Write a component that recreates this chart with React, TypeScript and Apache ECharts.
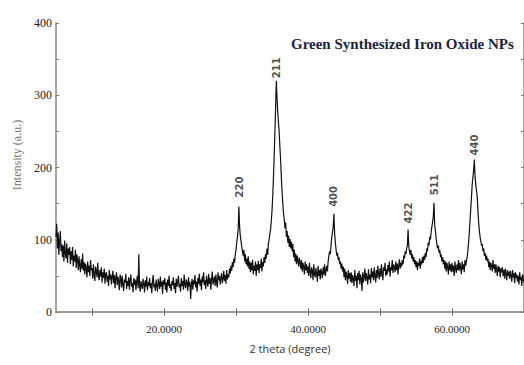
import React, { useEffect, useRef } from "react";
import * as echarts from "echarts";

// 2θ sampling grid of the scan (degrees)
const scanStart = 5.0;
const scanStep = 0.1;

// Intensity (a.u.), one value per 0.1° from 5.0° to 70.0°
const intensity: number[] = [
  // 5.0
  104, 122, 88, 110, 79, 98, 112, 84, 94, 76,
  // 6.0
  92, 70, 99, 81, 74, 95, 68, 88, 79, 90,
  // 7.0
  66, 84, 72, 90, 63, 78, 70, 86, 61, 80,
  // 8.0
  72, 58, 77, 64, 55, 73, 60, 81, 57, 69,
  // 9.0
  52, 67, 61, 48, 70, 55, 64, 50, 72, 58,
  // 10.0
  61, 46, 66, 52, 43, 63, 57, 48, 68, 50,
  // 11.0
  44, 58, 49, 62, 41, 55, 47, 60, 39, 53,
  // 12.0
  55, 42, 50, 36, 58, 45, 52, 38, 49, 57,
  // 13.0
  40, 51, 33, 47, 55, 37, 49, 42, 30, 52,
  // 14.0
  46, 34, 50, 38, 29, 45, 41, 53, 32, 43,
  // 15.0
  36, 48, 31, 44, 52, 35, 40, 27, 47, 38,
  // 16.0
  45, 30, 42, 50, 33, 80, 36, 28, 43, 37,
  // 17.0
  32, 46, 39, 27, 44, 35, 49, 30, 41, 36,
  // 18.0
  47, 33, 40, 26, 43, 51, 34, 39, 29, 45,
  // 19.0
  37, 28, 46, 40, 32, 49, 35, 42, 25, 44,
  // 20.0
  38, 47, 31, 41, 27, 45, 36, 50, 33, 39,
  // 21.0
  29, 43, 37, 48, 32, 40, 26, 46, 35, 42,
  // 22.0
  50, 34, 39, 28, 47, 36, 43, 31, 52, 38,
  // 23.0
  33, 45, 40, 29, 48, 35, 42, 18, 37, 46,
  // 24.0
  31, 44, 38, 51, 34, 42, 28, 47, 39, 53,
  // 25.0
  36, 45, 30, 49, 41, 55, 37, 44, 32, 50,
  // 26.0
  42, 35, 53, 39, 47, 31, 45, 56, 38, 43,
  // 27.0
  49, 36, 52, 41, 34, 55, 44, 50, 38, 47,
  // 28.0
  54, 40, 46, 57, 43, 51, 39, 58, 45, 52,
  // 29.0
  48, 60, 53, 64, 57, 69, 62, 74, 68, 80,
  // 30.0
  86, 96, 104, 114, 146, 118, 105, 98, 90, 84,
  // 31.0
  78, 86, 70, 80, 66, 74, 63, 77, 60, 70,
  // 32.0
  55, 68, 58, 72, 52, 64, 57, 70, 50, 66,
  // 33.0
  58, 71, 54, 66, 61, 74, 56, 69, 63, 76,
  // 34.0
  68, 80, 74, 88, 79, 95, 100, 108, 114, 126,
  // 35.0
  140, 160, 186, 215, 248, 282, 320, 296, 276, 262,
  // 36.0
  248, 228, 210, 186, 166, 150, 136, 128, 116, 124,
  // 37.0
  104, 112, 96, 106, 90, 101, 88, 97, 84, 94,
  // 38.0
  76, 86, 70, 81, 66, 78, 72, 63, 75, 68,
  // 39.0
  60, 72, 56, 68, 62, 52, 70, 58, 66, 54,
  // 40.0
  63, 50, 68, 55, 47, 62, 57, 44, 66, 52,
  // 41.0
  48, 61, 53, 42, 64, 50, 58, 45, 60, 55,
  // 42.0
  47, 62, 52, 66, 50, 58, 64, 56, 70, 78,
  // 43.0
  84, 80, 92, 104, 110, 118, 136, 108, 96, 86,
  // 44.0
  78, 82, 72, 76, 66, 70, 60, 67, 56, 63,
  // 45.0
  48, 60, 44, 56, 50, 39, 58, 46, 54, 42,
  // 46.0
  55, 40, 51, 46, 36, 58, 43, 50, 33, 54,
  // 47.0
  44, 57, 38, 52, 46, 29, 55, 41, 49, 60,
  // 48.0
  43, 54, 47, 38, 59, 45, 52, 40, 61, 48,
  // 49.0
  56, 44, 62, 50, 41, 58, 47, 64, 53, 45,
  // 50.0
  60, 49, 66, 53, 44, 62, 57, 68, 50, 59,
  // 51.0
  52, 65, 56, 70, 49, 62, 58, 72, 54, 66,
  // 52.0
  62, 55, 70, 58, 67, 52, 64, 73, 60, 68,
  // 53.0
  63, 72, 66, 78, 74, 84, 80, 88, 92, 114,
  // 54.0
  90, 84, 79, 86, 74, 80, 70, 76, 66, 72,
  // 55.0
  62, 70, 58, 68, 64, 74, 60, 71, 66, 76,
  // 56.0
  68, 78, 72, 82, 76, 88, 84, 96, 92, 104,
  // 57.0
  100, 110, 118, 124, 132, 151, 120, 112, 102, 94,
  // 58.0
  88, 92, 82, 86, 76, 80, 70, 76, 66, 72,
  // 59.0
  60, 70, 56, 68, 62, 52, 70, 58, 66, 55,
  // 60.0
  68, 56, 64, 50, 70, 60, 54, 66, 58, 72,
  // 61.0
  57, 68, 61, 52, 70, 59, 66, 55, 72, 64,
  // 62.0
  70, 76, 84, 96, 110, 126, 142, 158, 176, 186,
  // 63.0
  196, 211, 188, 176, 168, 160, 140, 124, 112, 104,
  // 64.0
  98, 92, 94, 84, 88, 78, 82, 72, 78, 70,
  // 65.0
  74, 62, 70, 58, 68, 64, 56, 72, 60, 66,
  // 66.0
  54, 66, 58, 50, 64, 56, 62, 48, 60, 55,
  // 67.0
  62, 50, 58, 46, 60, 53, 44, 58, 50, 56,
  // 68.0
  46, 57, 50, 42, 58, 48, 54, 40, 55, 47,
  // 69.0
  52, 42, 50, 38, 55, 44, 48, 36, 52, 45,
  // 70.0
  41,
];

// Peak (hkl) annotations
const peakLabels = ["220", "211", "400", "422", "511", "440"];
const peakAngles = [30.5, 35.63, 43.5, 53.9, 57.5, 63.07];
const peakLabelHeights = [173, 338, 160, 137, 176, 231];

// Axis ticks
const xTicks = [10, 20, 30, 40, 50, 60, 70];
const xLabels = [20, 40, 60];

const titleText = "Green Synthesized Iron Oxide NPs";
const yName = "Intensity (a.u.)";
const xName = "2 theta (degree)";

export default function App() {
  const ref = useRef<HTMLDivElement>(null);

  useEffect(() => {
    if (!ref.current) return;
    const chart = echarts.init(ref.current, undefined, { renderer: "svg" });

    const scan = intensity.map((v, i) => [
      +(scanStart + i * scanStep).toFixed(1),
      v,
    ]);
    const peaks = peakLabels.map((name, i) => ({
      name,
      value: [peakAngles[i], peakLabelHeights[i]],
    }));

    const frame = { show: true, lineStyle: { color: "#8f8f8f", width: 1.6 } };
    const tick = {
      show: true,
      inside: true,
      length: 4,
      lineStyle: { color: "#7a7a7a", width: 1 },
    };

    chart.setOption({
      animation: false,
      backgroundColor: "#ffffff",
      grid: { left: 56, top: 23, right: -1, bottom: 53, containLabel: false },
      xAxis: [
        {
          type: "value",
          min: 5,
          max: 70,
          position: "bottom",
          axisLine: frame,
          axisTick: { ...tick, customValues: xTicks },
          splitLine: { show: false },
          axisLabel: {
            customValues: xLabels,
            formatter: (v: number) => v.toFixed(4),
            fontFamily: "Liberation Serif",
            fontSize: 11,
            color: "#222",
            margin: 11,
          },
          name: xName,
          nameLocation: "middle",
          nameGap: 31,
          nameTextStyle: {
            fontFamily: "Open Sans",
            fontSize: 11,
            color: "#333",
          },
        },
        {
          type: "value",
          min: 5,
          max: 70,
          position: "top",
          axisLine: { show: true, lineStyle: { color: "#9a9a9a", width: 2 } },
          axisTick: { ...tick, customValues: xTicks },
          axisLabel: { show: false },
          splitLine: { show: false },
        },
      ],
      yAxis: [
        {
          type: "value",
          min: 0,
          max: 400,
          interval: 50,
          position: "left",
          axisLine: frame,
          axisTick: { ...tick, length: 3 },
          splitLine: { show: false },
          axisLabel: {
            formatter: (v: number) => (v % 100 === 0 ? String(v) : ""),
            fontFamily: "Liberation Serif",
            fontSize: 12,
            color: "#222",
            margin: 4,
          },
        },
        {
          type: "value",
          min: 0,
          max: 400,
          interval: 50,
          position: "right",
          axisLine: frame,
          axisTick: { ...tick, length: 3 },
          axisLabel: { show: false },
          splitLine: { show: false },
        },
      ],
      graphic: [
        {
          type: "text",
          x: 291,
          y: 44,
          style: {
            text: titleText,
            fontFamily: "Liberation Serif",
            fontWeight: "bold",
            fontSize: 15,
            fill: "#1b2440",
            align: "left",
            verticalAlign: "middle",
          },
        },
        {
          type: "text",
          x: 17,
          y: 155,
          rotation: Math.PI / 2,
          style: {
            text: yName,
            fontFamily: "Liberation Serif",
            fontSize: 12,
            fill: "#7e756a",
            align: "center",
            verticalAlign: "middle",
          },
        },
      ],
      series: [
        {
          type: "line",
          data: scan,
          showSymbol: false,
          symbol: "none",
          lineStyle: { color: "#111111", width: 1.2 },
          z: 3,
        },
        {
          type: "scatter",
          data: peaks,
          symbolSize: 0,
          z: 4,
          label: {
            show: true,
            position: "inside",
            rotate: 90,
            formatter: (p: any) => p.name,
            fontFamily: "DejaVu Sans",
            fontWeight: "bold",
            fontSize: 10,
            color: "#222",
          },
        },
      ],
    });

    return () => chart.dispose();
  }, []);

  return <div ref={ref} style={{ width: 524, height: 365, position: "absolute", left: 0, top: 0 }} />;
}
